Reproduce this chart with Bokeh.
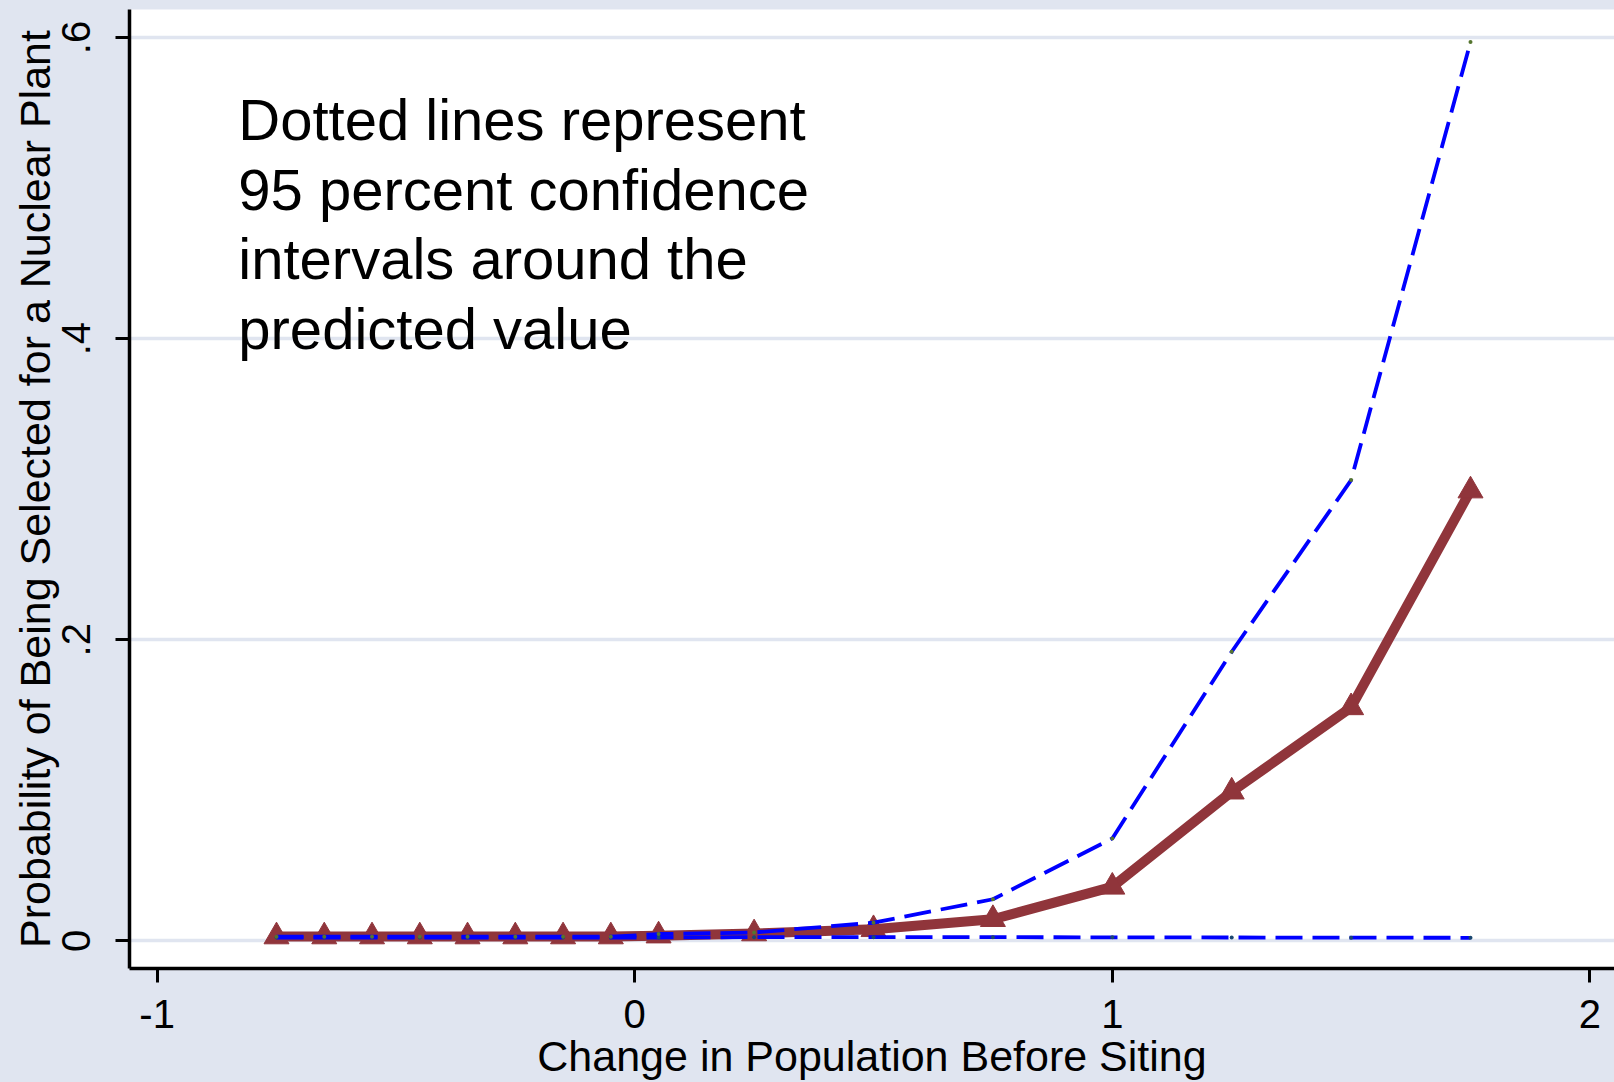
from bokeh.plotting import figure
from bokeh.models import Range1d, FixedTicker, Label, GlobalInlineStyleSheet
from bokeh.embed import file_html
from bokeh.resources import INLINE

# ---- data ----
change_pop = [-0.75, -0.65, -0.55, -0.45, -0.35, -0.25, -0.15, -0.05, 0.05,
              0.25, 0.5, 0.75, 1.0, 1.25, 1.5, 1.75]
predicted = [0.0028, 0.0028, 0.0028, 0.0028, 0.0028, 0.0028, 0.0028, 0.0028, 0.0034,
             0.0048, 0.0076, 0.0143, 0.0358, 0.099, 0.155, 0.299]
upper_ci = [0.0027, 0.0027, 0.0027, 0.0027, 0.0027, 0.0027, 0.0027, 0.0027, 0.0045,
            0.0055, 0.012, 0.0276, 0.068, 0.192, 0.306, 0.597]
lower_ci = [0.0022, 0.0022, 0.0022, 0.0022, 0.0022, 0.0022, 0.0022, 0.0022, 0.0022,
            0.0024, 0.0024, 0.0024, 0.0023, 0.0022, 0.0021, 0.002]

x_ticks = [-1, 0, 1, 2]
x_tick_labels = ["-1", "0", "1", "2"]
y_ticks = [0, 0.2, 0.4, 0.6]
y_tick_labels = ["0", ".2", ".4", ".6"]

x_title = "Change in Population Before Siting"
y_title = "Probability of Being Selected for a Nuclear Plant"
note_lines = ["Dotted lines represent", "95 percent confidence",
              "intervals around the", "predicted value"]
note_x = -0.830
note_y = [0.5453, 0.4988, 0.4530, 0.4065]

# ---- styles ----
BG = "#E0E5F0"
RED = "#90353B"
BLUE = "#0000FF"
FONT = "Liberation Sans"

p = figure(width=1614, height=1082, output_backend="svg", toolbar_location=None,
           x_range=Range1d(-1.0578, 2.0515), y_range=Range1d(-0.0184, 0.6186),
           min_border_left=129, min_border_right=0, min_border_top=9, min_border_bottom=114)
p.stylesheets = [GlobalInlineStyleSheet(
    css=f"html,body{{margin:0;padding:0;background:{BG};overflow:hidden;}}")]

p.background_fill_color = "white"
p.border_fill_color = BG
p.outline_line_color = None

p.xgrid.visible = False
p.ygrid.grid_line_color = BG
p.ygrid.grid_line_width = 3.5
p.ygrid.ticker = FixedTicker(ticks=y_ticks)

for ax in (p.xaxis[0], p.yaxis[0]):
    ax.axis_line_width = 3.5
    ax.axis_line_color = "black"
    ax.major_tick_line_width = 3
    ax.major_tick_line_color = "black"
    ax.major_tick_in = 0
    ax.major_tick_out = 14
    ax.minor_tick_line_color = None
    ax.major_label_text_font = FONT
    ax.major_label_text_font_size = "40px"
    ax.major_label_text_color = "black"
    ax.axis_label_text_font = FONT
    ax.axis_label_text_font_size = "43px"
    ax.axis_label_text_font_style = "normal"
    ax.axis_label_text_color = "black"

xa = p.xaxis[0]
xa.ticker = FixedTicker(ticks=x_ticks)
xa.major_label_overrides = {t: s for t, s in zip(x_ticks, x_tick_labels)}
xa.axis_label = x_title
xa.major_label_standoff = 17
xa.axis_label_standoff = 1

ya = p.yaxis[0]
ya.ticker = FixedTicker(ticks=y_ticks)
ya.major_label_overrides = {t: s for t, s in zip(y_ticks, y_tick_labels)}
ya.major_label_orientation = "vertical"
ya.axis_label = y_title
ya.major_label_standoff = 25
ya.axis_label_standoff = 1

# predicted value line with triangles
p.line(change_pop, predicted, line_color=RED, line_width=10, line_join="round")
p.scatter(change_pop, predicted, marker="triangle", size=25,
          fill_color=RED, line_color=RED, line_width=1)

# confidence interval lines
p.line(change_pop, lower_ci, line_color=BLUE, line_width=3.8, line_dash="27 10")
p.scatter(change_pop, lower_ci, marker="circle", size=4,
          fill_color="#1A476F", line_color=None)
p.line(change_pop, upper_ci, line_color=BLUE, line_width=3.8, line_dash="27 10")
p.scatter(change_pop, upper_ci, marker="circle", size=4,
          fill_color="#55752F", line_color=None)

for txt, yy in zip(note_lines, note_y):
    p.add_layout(Label(x=note_x, y=yy, text=txt, text_font=FONT,
                       text_font_size="58px", text_color="black",
                       text_baseline="alphabetic", text_align="left"))

open("out.html", "w").write(file_html(p, INLINE))
